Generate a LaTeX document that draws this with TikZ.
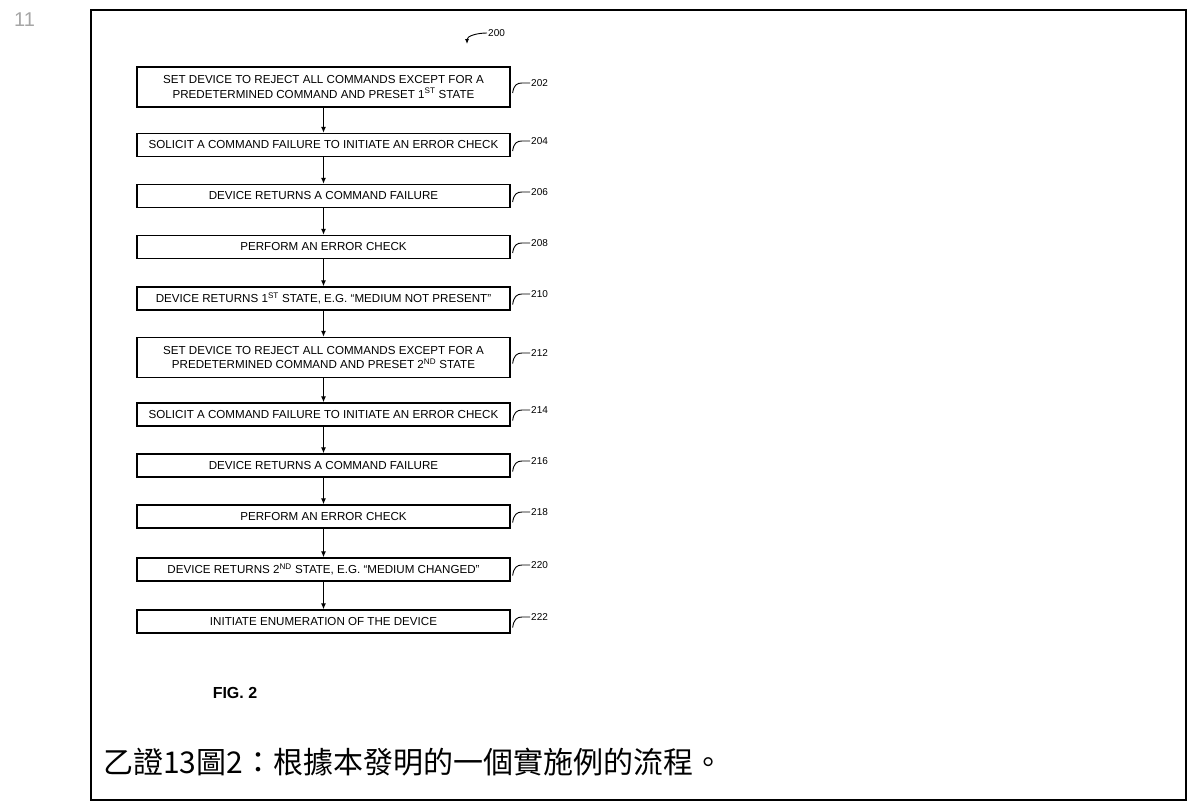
\documentclass[tikz,border=0pt]{standalone}
\usepackage{fontspec}
\setmainfont{Liberation Sans}
\newfontfamily\cjk{Noto Sans CJK TC}
\usetikzlibrary{arrows.meta}
\tikzset{
  stepbox/.style={draw, line width=1.3pt, minimum width=373pt, minimum height=23pt, align=center, inner sep=0pt, font=\fontsize{11.6}{14.5}\selectfont},
  tallbox/.style={stepbox, minimum height=40pt},
  flow/.style={line width=1.1pt, -{Latex[length=6pt,width=5pt]}},
  lbl/.style={font=\fontsize{10}{10}\selectfont, inner sep=1pt, anchor=west},
  leader/.style={line width=0.9pt}
}
\begin{document}
\begin{tikzpicture}[x=1pt,y=-1pt]
\useasboundingbox (0,0) rectangle (1191,809);
\draw[line width=2.6pt] (91,10) rectangle (1186,800);
\node[text=black!35, font=\fontsize{20}{20}\selectfont, anchor=west, inner sep=0pt] (pg) at (14,20) {11};

% reference numeral 200
\node[lbl] (l200) at (487,33) {200};
\coordinate (t200) at (467,44);
\draw[leader, -{Latex[length=5pt,width=4pt]}] (l200.west) .. controls +(-10,0) and +(0,-8) .. (t200);

% boxes
\node[tallbox] (b202) at (323.5,87) {SET DEVICE TO REJECT ALL COMMANDS EXCEPT FOR A\\PREDETERMINED COMMAND AND PRESET 1\textsuperscript{ST} STATE};
\node[stepbox] (b204) at (323.5,145) {SOLICIT A COMMAND FAILURE TO INITIATE AN ERROR CHECK};
\node[stepbox] (b206) at (323.5,196) {DEVICE RETURNS A COMMAND FAILURE};
\node[stepbox] (b208) at (323.5,247) {PERFORM AN ERROR CHECK};
\node[stepbox] (b210) at (323.5,298.5) {DEVICE RETURNS 1\textsuperscript{ST} STATE, E.G. ``MEDIUM NOT PRESENT''};
\node[tallbox] (b212) at (323.5,357.5) {SET DEVICE TO REJECT ALL COMMANDS EXCEPT FOR A\\PREDETERMINED COMMAND AND PRESET 2\textsuperscript{ND} STATE};
\node[stepbox] (b214) at (323.5,414.5) {SOLICIT A COMMAND FAILURE TO INITIATE AN ERROR CHECK};
\node[stepbox] (b216) at (323.5,465.5) {DEVICE RETURNS A COMMAND FAILURE};
\node[stepbox] (b218) at (323.5,516.5) {PERFORM AN ERROR CHECK};
\node[stepbox] (b220) at (323.5,569.5) {DEVICE RETURNS 2\textsuperscript{ND} STATE, E.G. ``MEDIUM CHANGED''};
\node[stepbox] (b222) at (323.5,621.5) {INITIATE ENUMERATION OF THE DEVICE};

% arrows
\foreach \a/\b in {202/204,204/206,206/208,208/210,210/212,212/214,214/216,216/218,218/220,220/222}
  \draw[flow] (b\a.south) -- (b\b.north);

% labels with leaders
\foreach \n/\y in {202/83,204/141,206/192,208/243,210/294,212/353,214/410,216/461,218/512,220/565,222/617}{
  \node[lbl] (l\n) at (530,\y) {\n};
  \draw[leader] ([xshift=2pt,yshift=-6pt]b\n.east) .. controls +(1,-8) and +(-5,0) .. ([xshift=-8pt]l\n.west) -- (l\n.west);
}

\node[font=\bfseries\fontsize{16}{16}\selectfont] (fig) at (235,693) {FIG. 2};
\node[font=\cjk\fontsize{30}{30}\selectfont, anchor=west, inner sep=0pt] (cap) at (103,762) {乙證13圖2：根據本發明的一個實施例的流程。};
\end{tikzpicture}
\end{document}
